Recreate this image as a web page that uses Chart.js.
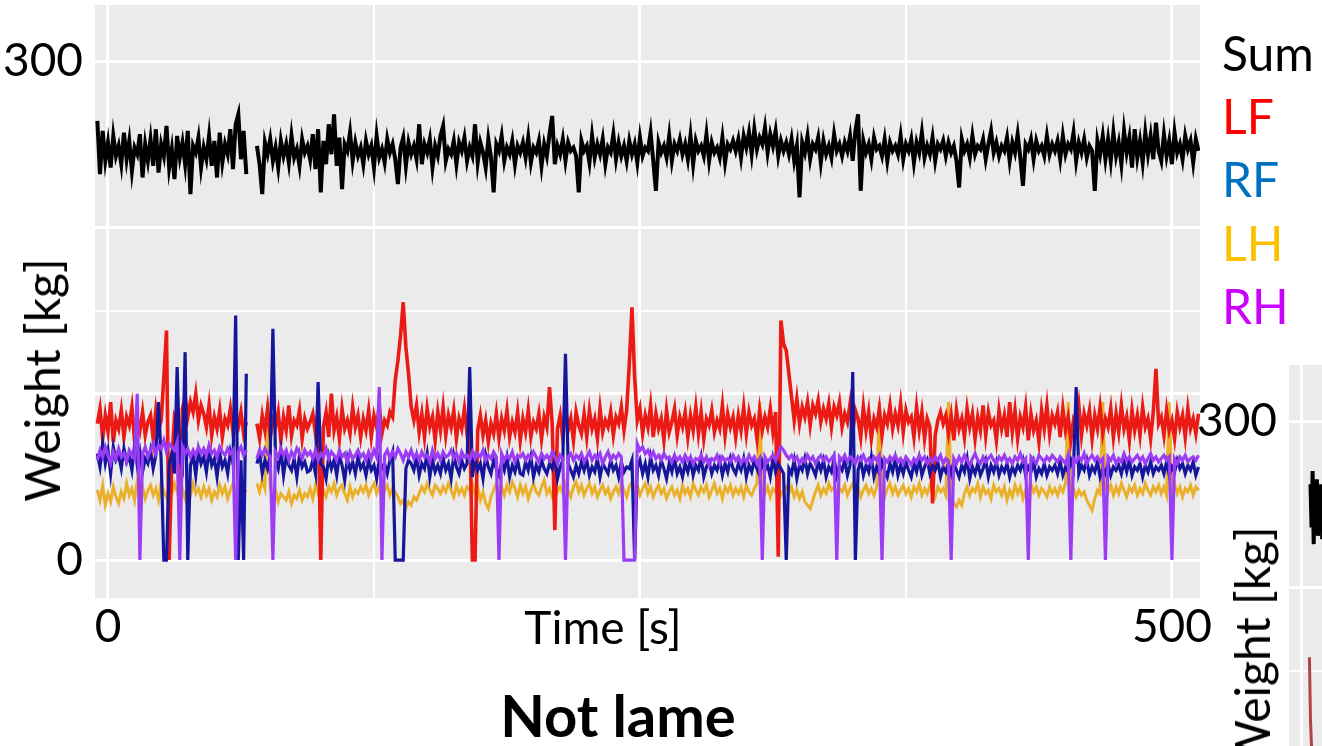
<!DOCTYPE html>
<html>
<head>
<meta charset="utf-8">
<title>Not lame</title>
<script src="https://cdn.jsdelivr.net/npm/chart.js@4.4.1/dist/chart.umd.min.js"></script>
<style>
html, body { margin: 0; padding: 0; width: 1322px; height: 746px; overflow: hidden; background: #fff; }
body { position: relative; font-family: Lato, "Open Sans", sans-serif; color: #000; }
.box { position: absolute; }
.txt { position: absolute; line-height: 1; white-space: nowrap; font-size: 48px; }
.ytitle { transform: translate(-50%, -50%) rotate(-90deg); }
.center { transform: translateX(-50%); }
</style>
</head>
<body>
<div class="box" style="left:0;top:0;width:1322px;height:746px"><canvas id="weightChart"></canvas></div>
<div class="box" style="left:1194px;top:360px;width:1322px;height:746px"><canvas id="lameChart"></canvas></div>

<div class="txt ytitle" style="left:42px;top:380px">Weight [kg]</div>
<div class="txt center" style="left:603px;top:604px;font-size:46px">Time [s]</div>
<div class="txt center" style="left:618px;top:686px;font-size:58px;font-weight:bold">Not lame</div>

<div class="txt" style="left:1222px;top:29px;color:#000000">Sum</div>
<div class="txt" style="left:1222px;top:92px;color:#ff0000">LF</div>
<div class="txt" style="left:1222px;top:155px;color:#0070c0">RF</div>
<div class="txt" style="left:1222px;top:219px;color:#ffc000">LH</div>
<div class="txt" style="left:1222px;top:282px;color:#cc00ff">RH</div>

<div class="txt ytitle" style="left:1252px;top:648px">Weight [kg]</div>

<script>
// Abtastung: erste Zeit und Schritt in s
const startTime = -5;
const stepTime = 1.25;

// Gesamtgewicht (Sum), eine Zeile = 25 s
const sumWeight = [
    264, 232, 258, 240, 251, 236, 255, 243, 249, 238, 257, 241, 252, 234, 248, 244, 256, 230, 250, 240,
    253, 237, 259, 233, 250, 243, 261, 236, 247, 229, 255, 242, 251, 238, 258, 220, 249, 245, 254, 236,
    248, 241, 255, 237, 252, 230, 257, 239, 250, 244, 259, 235, 262, 268, 241, 258, 232, null, null, null,
    249, 238, 220, 251, 244, 253, 240, 248, 236, 252, 243, 250, 239, 255, 242, 247, 237, 253, 245, 249,
    241, 256, 235, 259, 221, 252, 238, 262, 244, 268, 237, 254, 223, 250, 246, 257, 240, 251, 243, 248,
    238, 252, 244, 249, 236, 255, 242, 247, 239, 253, 245, 250, 241, 226, 248, 254, 237, 251, 244, 249,
    241, 262, 238, 250, 245, 253, 236, 249, 243, 255, 261, 240, 247, 244, 252, 238, 251, 246, 254, 240,
    248, 243, 262, 239, 251, 245, 236, 253, 242, 221, 250, 246, 255, 240, 248, 244, 252, 238, 249, 245,
    251, 242, 254, 239, 248, 245, 252, 237, 250, 243, 256, 267, 238, 249, 244, 253, 240, 251, 246, 248,
    243, 221, 252, 246, 249, 239, 255, 242, 250, 244, 253, 238, 248, 245, 256, 241, 251, 243, 249, 240,
    252, 244, 250, 239, 254, 243, 248, 246, 257, 240, 222, 251, 245, 249, 242, 255, 240, 250, 246, 253,
    244, 250, 241, 255, 238, 252, 246, 249, 243, 256, 240, 251, 245, 248, 242, 254, 239, 250, 247, 252,
    246, 253, 242, 255, 248, 257, 244, 259, 247, 254, 250, 260, 245, 256, 249, 258, 243, 252, 246, 251,
    244, 253, 240, 249, 218, 251, 245, 255, 241, 250, 247, 254, 239, 252, 244, 249, 242, 256, 246, 250,
    243, 251, 246, 255, 240, 258, 268, 222, 252, 245, 250, 241, 254, 247, 249, 243, 253, 240, 251, 246,
    249, 244, 255, 241, 250, 246, 253, 239, 251, 245, 257, 242, 249, 244, 254, 240, 250, 247, 252, 243,
    251, 245, 249, 240, 224, 253, 246, 250, 242, 255, 244, 249, 247, 253, 241, 250, 258, 245, 251, 243,
    249, 246, 254, 240, 251, 245, 256, 242, 225, 250, 247, 253, 241, 252, 246, 249, 243, 255, 244, 250,
    246, 252, 241, 255, 244, 250, 247, 257, 240, 251, 245, 253, 242, 249, 246, 222, 252, 244, 255, 241,
    253, 240, 257, 243, 251, 238, 258, 245, 254, 236, 259, 242, 252, 239, 257, 244, 255, 241, 263, 246,
    240, 256, 243, 252, 238, 257, 245, 250, 241, 255, 247, 252, 239, 253, 246
];

// linkes Vorderbein
const lfWeight = [
    82, 91, 73, 87, 77, 95, 71, 84, 79, 90, 74, 86, 81, 92, 72, 85, 78, 89, 75, 83,
    87, 73, 90, 78, 84, 110, 138, 0, 60, 86, 82, 26, 91, 98, 86, 95, 89, 100, 84, 93,
    88, 80, 93, 75, 86, 79, 90, 74, 85, 81, 91, 77, 84, 80, 89, 76, 83, null, null, null,
    82, 73, 87, 78, 91, 74, 84, 80, 89, 72, 86, 78, 93, 75, 84, 81, 90, 73, 85, 79,
    83, 88, 76, 90, 0, 80, 89, 74, 100, 78, 86, 73, 91, 79, 84, 76, 92, 80, 87, 74,
    85, 78, 90, 74, 87, 80, 93, 76, 84, 81, 89, 86, 108, 120, 135, 155, 128, 112, 92, 84,
    93, 77, 88, 74, 91, 80, 86, 72, 89, 78, 92, 75, 87, 80, 90, 73, 85, 79, 91, 76,
    84, 0, 0, 78, 87, 75, 84, 71, 82, 76, 88, 73, 85, 78, 90, 74, 83, 77, 89, 72,
    85, 77, 90, 74, 83, 79, 88, 73, 86, 80, 104, 82, 18, 79, 87, 73, 91, 78, 85, 72,
    89, 81, 76, 88, 74, 90, 79, 85, 73, 91, 77, 84, 80, 89, 75, 86, 82, 92, 78, 90,
    118, 152, 110, 84, 91, 76, 87, 80, 93, 74, 88, 79, 85, 72, 90, 77, 83, 91, 75, 86,
    80, 89, 74, 87, 78, 92, 76, 89, 73, 85, 81, 90, 77, 84, 79, 93, 75, 88, 80, 86,
    74, 87, 78, 92, 76, 89, 81, 85, 73, 90, 78, 86, 80, 91, 77, 89, 2, 144, 130, 126,
    112, 98, 84, 97, 82, 92, 86, 95, 81, 93, 88, 96, 83, 91, 85, 94, 80, 92, 87, 95,
    80, 88, 83, 94, 77, 90, 85, 74, 92, 78, 89, 73, 85, 80, 91, 75, 87, 82, 93, 79,
    88, 81, 94, 77, 90, 83, 86, 74, 92, 78, 89, 73, 85, 80, 34, 75, 84, 89, 82, 87,
    76, 87, 72, 90, 79, 85, 74, 91, 80, 88, 73, 86, 78, 93, 75, 89, 81, 84, 72, 90,
    79, 87, 74, 95, 77, 90, 73, 86, 80, 92, 72, 88, 78, 84, 71, 90, 79, 93, 76, 87,
    82, 89, 74, 91, 78, 86, 72, 84, 80, 93, 75, 88, 81, 90, 73, 87, 79, 92, 76, 85,
    80, 91, 74, 88, 77, 93, 79, 86, 72, 90, 78, 87, 75, 92, 80, 85, 73, 89, 115, 82,
    86, 75, 90, 78, 84, 73, 89, 80, 87, 74, 91, 79, 85, 76, 88
];

// rechtes Vorderbein
const rfWeight = [
    64, 56, 70, 58, 66, 52, 68, 60, 63, 55, 67, 59, 62, 54, 69, 57, 65, 53, 61, 58,
    66, 55, 63, 95, 60, 0, 0, 58, 64, 52, 116, 60, 55, 125, 0, 57, 63, 51, 66, 58,
    62, 53, 66, 57, 61, 50, 64, 56, 60, 52, 65, 58, 147, 0, 60, 0, 112, null, null, null,
    58, 64, 52, 60, 55, 63, 139, 60, 55, 66, 51, 62, 57, 54, 61, 50, 63, 56, 59, 53,
    54, 60, 52, 107, 58, 56, 49, 62, 55, 60, 51, 63, 57, 48, 61, 54, 59, 52, 62, 55,
    58, 51, 60, 54, 57, 49, 61, 55, 58, 52, 60, 65, 0, 0, 0, 0, 55, 60, 58, 54,
    62, 51, 58, 55, 64, 50, 60, 53, 57, 52, 61, 54, 58, 49, 63, 56, 52, 60, 55, 58,
    116, 50, 61, 54, 58, 49, 63, 56, 52, 60, 55, 51, 59, 54, 62, 50, 57, 53, 60, 52,
    51, 59, 54, 62, 50, 57, 53, 60, 55, 52, 58, 55, 61, 49, 56, 60, 124, 58, 54, 50,
    57, 52, 59, 54, 60, 51, 56, 53, 61, 50, 58, 55, 52, 60, 54, 57, 50, 59, 53, 56,
    55, 60, 0, 55, 60, 52, 58, 50, 62, 54, 57, 51, 60, 55, 49, 58, 53, 61, 52, 56,
    50, 58, 53, 60, 51, 57, 54, 62, 50, 56, 59, 52, 57, 54, 60, 51, 58, 53, 61, 55,
    52, 58, 54, 61, 50, 57, 53, 60, 55, 51, 59, 54, 57, 50, 61, 53, 58, 55, 52, 0,
    55, 52, 60, 49, 57, 54, 61, 52, 58, 55, 51, 59, 54, 60, 50, 56, 53, 61, 51, 57,
    54, 60, 51, 57, 113, 0, 54, 60, 51, 57, 53, 62, 50, 56, 52, 59, 54, 50, 58, 53,
    61, 51, 57, 52, 59, 54, 50, 58, 53, 61, 51, 56, 60, 52, 57, 54, 59, 50, 56, 53,
    58, 52, 59, 54, 50, 57, 53, 61, 49, 56, 52, 58, 51, 55, 60, 50, 57, 53, 59, 51,
    56, 53, 58, 50, 56, 52, 57, 54, 60, 51, 56, 53, 59, 50, 55, 52, 58, 51, 56, 54,
    57, 52, 59, 51, 56, 53, 60, 55, 104, 52, 57, 54, 60, 51, 56, 53, 59, 50, 55, 52,
    58, 51, 56, 54, 57, 52, 59, 53, 60, 51, 56, 54, 58, 50, 57, 53, 59, 52, 56, 54,
    57, 52, 59, 51, 56, 53, 60, 55, 58, 52, 57, 54, 59, 51, 56
];

// linkes Hinterbein
const lhWeight = [
    42, 36, 45, 33, 40, 35, 44, 38, 34, 41, 37, 46, 39, 43, 36, 48, 40, 44, 37, 42,
    45, 39, 43, 36, 47, 41, 38, 44, 40, 46, 41, 48, 43, 37, 44, 39, 46, 40, 43, 38,
    44, 39, 43, 36, 41, 38, 45, 40, 44, 37, 42, 46, 40, 44, 38, 43, 41, null, null, null,
    46, 41, 48, 43, 95, 44, 37, 42, 35, 40, 38, 36, 41, 34, 39, 37, 42, 36, 40, 38,
    43, 37, 45, 40, 47, 42, 38, 44, 41, 46, 39, 43, 45, 40, 36, 44, 38, 42, 40, 44,
    41, 45, 39, 43, 46, 40, 44, 38, 42, 45, 39, 43, 41, 38, 34, 36, 31, 35, 33, 38,
    36, 40, 44, 41, 46, 42, 39, 45, 43, 40, 44, 41, 46, 42, 38, 45, 40, 43, 39, 44,
    42, 46, 39, 44, 36, 41, 34, 31, 38, 42, 46, 41, 44, 39, 45, 41, 47, 43, 38, 45,
    40, 44, 37, 42, 46, 41, 39, 44, 48, 40, 43, 38, 45, 41, 44, 40, 46, 42, 38, 44,
    47, 41, 45, 39, 43, 46, 40, 44, 38, 42, 45, 40, 43, 37, 41, 44, 40, 46, 42, 38,
    44, 47, 41, 45, 39, 43, 46, 40, 44, 38, 42, 45, 40, 43, 37, 41, 44, 39, 42, 37,
    45, 40, 43, 38, 46, 42, 39, 44, 41, 45, 38, 42, 46, 40, 43, 37, 44, 41, 45, 39,
    43, 40, 44, 38, 45, 41, 39, 43, 46, 95, 42, 40, 44, 38, 43, 41, 45, 39, 42, 44,
    40, 44, 38, 42, 37, 41, 35, 33, 31, 36, 41, 45, 39, 43, 40, 46, 42, 44, 38, 43,
    41, 45, 39, 43, 46, 40, 44, 38, 42, 45, 40, 43, 39, 44, 95, 41, 38, 43, 46, 40,
    44, 39, 42, 45, 40, 43, 38, 44, 41, 46, 39, 43, 40, 45, 42, 38, 44, 41, 43, 39,
    95, 40, 34, 32, 36, 33, 40, 44, 39, 43, 41, 46, 38, 44, 40, 42, 37, 45, 41, 43,
    39, 44, 36, 42, 38, 45, 40, 44, 37, 42, 40, 46, 41, 44, 39, 43, 41, 38, 44, 40,
    43, 39, 44, 41, 46, 95, 40, 43, 38, 42, 39, 41, 36, 33, 30, 37, 42, 40, 95, 44,
    41, 45, 39, 44, 40, 46, 42, 38, 44, 41, 45, 39, 43, 40, 46, 42, 39, 44, 41, 45,
    40, 44, 39, 95, 42, 46, 40, 44, 38, 43, 41, 45, 39, 44, 42
];

// rechtes Hinterbein
const rhWeight = [
    60, 66, 62, 68, 63, 58, 65, 61, 67, 62, 64, 59, 66, 63, 61, 100, 0, 64, 68, 62,
    66, 70, 64, 69, 67, 72, 65, 70, 68, 66, 71, 0, 68, 64, 67, 62, 66, 63, 68, 64,
    67, 63, 69, 64, 66, 62, 68, 65, 63, 67, 64, 66, 0, 65, 68, 63, 66, null, null, null,
    61, 66, 63, 67, 64, 62, 0, 65, 62, 67, 63, 66, 60, 65, 62, 67, 64, 61, 66, 63,
    65, 61, 66, 60, 64, 62, 67, 61, 65, 63, 60, 66, 62, 64, 59, 65, 61, 63, 66, 62,
    64, 60, 65, 61, 66, 62, 104, 0, 63, 66, 61, 65, 62, 67, 64, 60, 65, 62, 66, 61,
    64, 60, 65, 62, 63, 59, 66, 61, 64, 60, 65, 62, 63, 66, 61, 64, 59, 65, 62, 63,
    60, 65, 61, 64, 62, 66, 60, 63, 61, 65, 62, 0, 64, 60, 63, 61, 65, 59, 63, 62,
    64, 60, 63, 61, 65, 62, 59, 64, 61, 63, 60, 65, 62, 58, 63, 61, 0, 62, 64, 60,
    63, 61, 64, 59, 62, 65, 60, 63, 61, 64, 58, 62, 65, 60, 63, 61, 64, 62, 0, 0,
    0, 0, 0, 70, 66, 68, 64, 66, 62, 65, 61, 63, 60, 64, 61, 62, 59, 63, 60, 62,
    59, 63, 60, 62, 58, 61, 60, 63, 59, 62, 57, 61, 60, 63, 58, 62, 60, 61, 59, 63,
    60, 62, 58, 61, 59, 63, 60, 62, 58, 61, 0, 62, 59, 61, 63, 60, 64, 68, 66, 63,
    61, 63, 60, 62, 58, 61, 59, 63, 60, 62, 58, 61, 63, 60, 62, 59, 61, 63, 0, 62,
    60, 63, 59, 62, 61, 58, 62, 60, 63, 59, 61, 58, 62, 60, 63, 0, 61, 59, 62, 60,
    63, 59, 61, 58, 62, 60, 57, 61, 59, 63, 60, 62, 58, 61, 59, 62, 60, 63, 58, 61,
    59, 0, 61, 58, 62, 59, 63, 60, 57, 61, 64, 60, 58, 62, 59, 61, 63, 60, 58, 62,
    60, 63, 59, 61, 58, 62, 60, 64, 59, 61, 0, 62, 60, 58, 63, 61, 59, 62, 60, 63,
    61, 59, 62, 60, 58, 63, 0, 61, 59, 62, 60, 64, 58, 61, 63, 60, 62, 59, 61, 0,
    62, 60, 63, 58, 61, 59, 64, 60, 62, 59, 61, 63, 60, 62, 58, 61, 64, 60, 62, 59,
    61, 63, 60, 62, 0, 61, 58, 62, 60, 63, 59, 61, 62, 60, 63
];

// Achsen
const yGrid = [0, 100, 150, 200, 300];
const yLabels = [0, 300];
const xGrid = [0, 125, 250, 375, 500];
const xLabels = [0, 500];

// naechstes Panel (lahm), nur der Anfang ist sichtbar
const lameTimes = [3.5, 4, 4.5, 5, 5.5, 6, 6.5, 7, 7.5, 8, 8.5, 9, 9.5, 10];
const lameSum = [null, 262, 236, 270, 226, 258, 240, 265, 231, 255, 238, 262, 229, 250];
const lameLF = [158, 120, 104, 98, 92, 95, 90, 96, 88, 93, 90, 97, 89, 94];

const sampleTimes = sumWeight.map((_, i) => startTime + i * stepTime);
const toPoints = (times, values) => values.map((v, i) => ({ x: times[i], y: v }));

const line = (label, times, values, color, width, order) => ({
    label: label,
    data: toPoints(times, values),
    borderColor: color,
    borderWidth: width,
    pointRadius: 0,
    tension: 0,
    spanGaps: false,
    order: order
});

// grauer Hintergrund wie ggplot
const panelBackground = {
    id: 'panelBackground',
    beforeDraw: (chart) => {
        const { ctx, chartArea } = chart;
        ctx.save();
        ctx.fillStyle = '#ebebeb';
        ctx.fillRect(chartArea.left, chartArea.top, chartArea.right - chartArea.left, chartArea.bottom - chartArea.top);
        ctx.restore();
    }
};

const makeOptions = () => ({
    responsive: true,
    maintainAspectRatio: false,
    animation: false,
    layout: { padding: { left: 0, top: 5, right: 122, bottom: 0 } },
    plugins: { legend: { display: false }, tooltip: { enabled: false } },
    scales: {
        x: {
            type: 'linear',
            min: -6.1,
            max: 513.2,
            afterBuildTicks: (axis) => { axis.ticks = xGrid.map(v => ({ value: v })); },
            afterFit: (axis) => { axis.height = 148; axis.paddingLeft = 0; axis.paddingRight = 0; },
            border: { display: false },
            grid: {
                color: '#ffffff',
                lineWidth: (c) => (c.tick && c.tick.value % 250 === 0 ? 3 : 2),
                drawTicks: false
            },
            ticks: {
                autoSkip: false,
                maxRotation: 0,
                padding: 2,
                color: '#000000',
                font: { family: 'Lato', size: 46 },
                callback: (v) => (xLabels.includes(v) ? String(v) : '')
            }
        },
        y: {
            min: -22.8,
            max: 333.7,
            afterBuildTicks: (axis) => { axis.ticks = yGrid.map(v => ({ value: v })); },
            afterFit: (axis) => { axis.width = 95; axis.paddingTop = 0; axis.paddingBottom = 0; },
            border: { display: false },
            grid: {
                color: '#ffffff',
                lineWidth: (c) => (c.tick && c.tick.value === 150 ? 2 : 3),
                drawTicks: false
            },
            ticks: {
                autoSkip: false,
                padding: 12,
                color: '#000000',
                font: { family: 'Lato', size: 46 },
                callback: (v) => (yLabels.includes(v) ? String(v) : '')
            }
        }
    }
});

const createWeightChart = () => {
    const ctx = document.getElementById('weightChart').getContext('2d');
    new Chart(ctx, {
        type: 'line',
        data: {
            datasets: [
                line('Sum', sampleTimes, sumWeight, '#000000', 4, 4),
                line('LF', sampleTimes, lfWeight, '#ec1a14', 3.6, 2),
                line('RF', sampleTimes, rfWeight, '#16169c', 3.2, 1),
                line('LH', sampleTimes, lhWeight, '#ebb02a', 3, 3),
                line('RH', sampleTimes, rhWeight, '#9b3df5', 3.2, 0)
            ]
        },
        options: makeOptions(),
        plugins: [panelBackground]
    });
};

const createLameChart = () => {
    const ctx = document.getElementById('lameChart').getContext('2d');
    new Chart(ctx, {
        type: 'line',
        data: {
            datasets: [
                line('Sum', lameTimes, lameSum, '#000000', 4, 1),
                line('LF', lameTimes, lameLF, '#b04444', 3, 0)
            ]
        },
        options: makeOptions(),
        plugins: [panelBackground]
    });
};

createWeightChart();
createLameChart();
</script>
</body>
</html>
